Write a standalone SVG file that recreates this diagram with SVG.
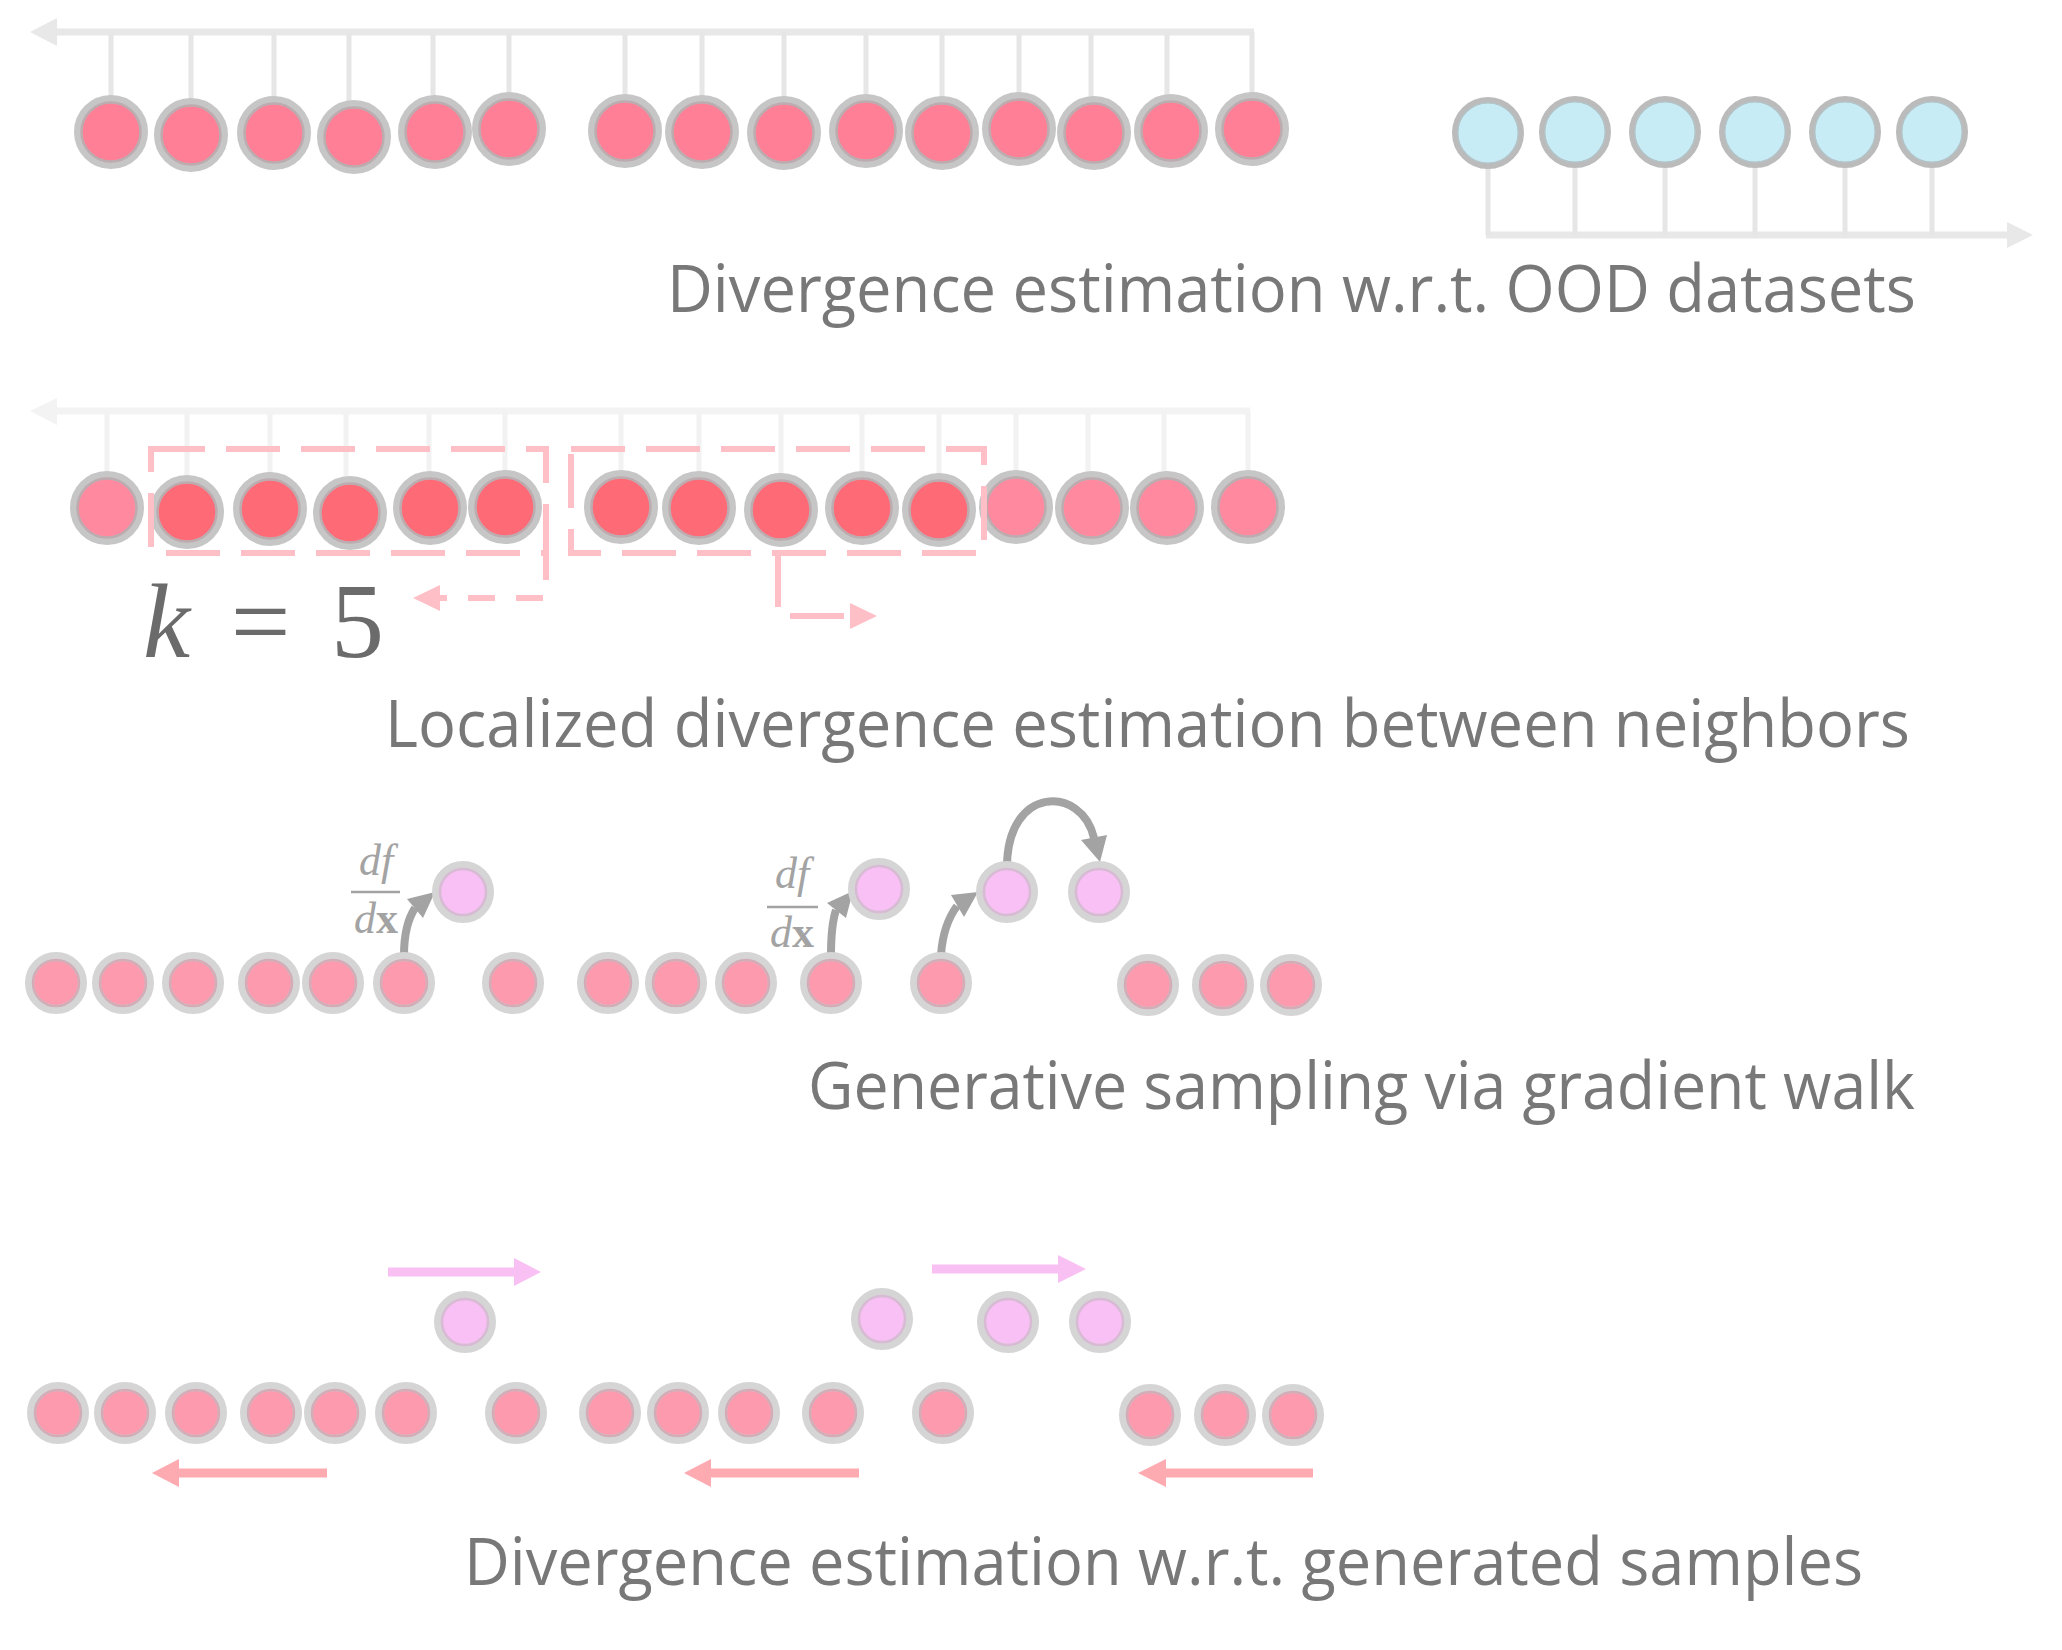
<svg xmlns="http://www.w3.org/2000/svg" xmlns:xlink="http://www.w3.org/1999/xlink" width="2062" height="1650" viewBox="0 0 2062 1650">
<style>
.lbl{font-family:"Open Sans","Noto Sans","Liberation Sans",sans-serif;font-size:65px;fill:#787878;font-variant-ligatures:none}
.math{font-family:"Liberation Serif","DejaVu Serif",serif;fill:#6b6b6b}
.frac{font-family:"Liberation Serif","DejaVu Serif",serif;font-size:44px;fill:#a3a3a3}
.ax1{stroke:#e8e8e8;stroke-width:7;fill:none}
.st1{stroke:#e6e6e6;stroke-width:5;fill:none}
.ax2{stroke:#f3f3f3;stroke-width:7;fill:none}
.st2{stroke:#f2f2f2;stroke-width:5;fill:none}
.dash{stroke:#ffbfc6;stroke-width:6;fill:none;stroke-dasharray:54 21}
.dashs{stroke:#ffbfc6;stroke-width:6;fill:none;stroke-dasharray:27 21}
.grad{stroke:#a3a3a3;stroke-width:8;fill:none}
.mag{stroke:#f9c0f4;stroke-width:9;fill:none}
.red{stroke:#fdaab0;stroke-width:9;fill:none}
</style>
<defs>
<g id="cR1"><circle r="33" fill="#ff7f96" stroke="#c6c6c6" stroke-width="8"/><circle r="29.5" fill="none" stroke="#bcacaf" stroke-width="2.5"/></g>
<g id="cR2d"><circle r="33" fill="#ff6a77" stroke="#c6c6c6" stroke-width="8"/><circle r="29.5" fill="none" stroke="#bcacaf" stroke-width="2.5"/></g>
<g id="cR2l"><circle r="33" fill="#ff8aa0" stroke="#c6c6c6" stroke-width="8"/><circle r="29.5" fill="none" stroke="#bcacaf" stroke-width="2.5"/></g>
<g id="cB"><circle r="33" fill="#c8ecf6" stroke="#bbbbbb" stroke-width="6"/><circle r="30.3" fill="none" stroke="#b3c3c7" stroke-width="1.5"/></g>
<g id="cP"><circle r="26.5" fill="#fd9aae" stroke="#d5d5d5" stroke-width="9"/><circle r="23" fill="none" stroke="#d2adb7" stroke-width="2.5"/></g>
<g id="cM"><circle r="26.5" fill="#f8c0f4" stroke="#d5d5d5" stroke-width="9"/><circle r="23" fill="none" stroke="#d8bad5" stroke-width="2.5"/></g>
</defs>

<g id="connectors">
<path class="ax1" d="M50,32 H1254"/>
<polygon points="30,32 57,18 57,46" fill="#e8e8e8"/>
<path class="st1" d="M111,32V132 M191,32V135 M274,32V133 M349,32V137 M433,32V132 M509,32V129 M625,32V131 M702,32V132 M784,32V133 M866,32V131 M942,32V133 M1019,32V129 M1091,32V133 M1167,32V131 M1252,32V129"/>
<path class="ax1" d="M1486,235 H2010"/>
<polygon points="2033,235 2007,222 2007,248" fill="#e8e8e8"/>
<path class="st1" d="M1488,133V235 M1575,132V235 M1665,132V235 M1755,132V235 M1845,132V235 M1932,132V235"/>
<path class="ax2" d="M50,411 H1250"/>
<polygon points="30,411 57,398 57,425" fill="#f3f3f3"/>
<path class="st2" d="M107,411V508 M187,411V512 M270,411V509 M346,411V513 M429,411V508 M505,411V507 M621,411V507 M699,411V508 M781,411V510 M862,411V508 M939,411V510 M1016,411V507 M1088,411V508 M1164,411V508 M1248,411V507"/>
<path class="grad" d="M404,955 Q404,925 415,908"/>
<polygon points="435,892 407,899 423,918" fill="#a3a3a3"/>
<path class="grad" d="M831,955 Q831,925 836,910"/>
<polygon points="853,891 827,903 846,918" fill="#a3a3a3"/>
<path class="grad" d="M941,955 Q943,925 957,906"/>
<polygon points="978,892 951,895 964,917" fill="#a3a3a3"/>
<path class="grad" d="M1007,867 C1007,785 1082,785 1094,838"/>
<polygon points="1100,862 1081,840 1107,835" fill="#a3a3a3"/>
<path class="mag" d="M388,1272 H516"/>
<polygon points="541,1272 514,1258 514,1286" fill="#f9c0f4"/>
<path class="mag" d="M932,1269 H1060"/>
<polygon points="1086,1269 1058,1255 1058,1283" fill="#f9c0f4"/>
<path class="red" d="M327,1473 H177"/>
<polygon points="152,1473 179,1459 179,1487" fill="#fdaab0"/>
<path class="red" d="M859,1473 H709"/>
<polygon points="684,1473 711,1459 711,1487" fill="#fdaab0"/>
<path class="red" d="M1313,1473 H1164"/>
<polygon points="1138,1473 1166,1459 1166,1487" fill="#fdaab0"/>
</g>

<g id="row1-red">
<g id="r1-1"><use href="#cR1" x="111" y="132"/></g>
<g id="r1-2"><use href="#cR1" x="191" y="135"/></g>
<g id="r1-3"><use href="#cR1" x="274" y="133"/></g>
<g id="r1-4"><use href="#cR1" x="354" y="137"/></g>
<g id="r1-5"><use href="#cR1" x="435" y="132"/></g>
<g id="r1-6"><use href="#cR1" x="509" y="129"/></g>
<g id="r1-7"><use href="#cR1" x="625" y="131"/></g>
<g id="r1-8"><use href="#cR1" x="702" y="132"/></g>
<g id="r1-9"><use href="#cR1" x="784" y="133"/></g>
<g id="r1-10"><use href="#cR1" x="866" y="131"/></g>
<g id="r1-11"><use href="#cR1" x="942" y="133"/></g>
<g id="r1-12"><use href="#cR1" x="1019" y="129"/></g>
<g id="r1-13"><use href="#cR1" x="1094" y="133"/></g>
<g id="r1-14"><use href="#cR1" x="1171" y="131"/></g>
<g id="r1-15"><use href="#cR1" x="1252" y="129"/></g>
</g>
<g id="row1-blue">
<g id="b1"><use href="#cB" x="1488" y="133"/></g>
<g id="b2"><use href="#cB" x="1575" y="132"/></g>
<g id="b3"><use href="#cB" x="1665" y="132"/></g>
<g id="b4"><use href="#cB" x="1755" y="132"/></g>
<g id="b5"><use href="#cB" x="1845" y="132"/></g>
<g id="b6"><use href="#cB" x="1932" y="132"/></g>
</g>
<text id="t1" class="lbl" x="667" y="312" textLength="1249" lengthAdjust="spacingAndGlyphs">Divergence estimation w.r.t. OOD datasets</text>

<g id="row2">
<g id="r2-1"><use href="#cR2l" x="107" y="508"/></g>
<g id="r2-2"><use href="#cR2d" x="187" y="512"/></g>
<g id="r2-3"><use href="#cR2d" x="270" y="509"/></g>
<g id="r2-4"><use href="#cR2d" x="350" y="513"/></g>
<g id="r2-5"><use href="#cR2d" x="430" y="508"/></g>
<g id="r2-6"><use href="#cR2d" x="505" y="507"/></g>
<g id="r2-7"><use href="#cR2d" x="621" y="507"/></g>
<g id="r2-8"><use href="#cR2d" x="699" y="508"/></g>
<g id="r2-9"><use href="#cR2d" x="781" y="510"/></g>
<g id="r2-10"><use href="#cR2d" x="862" y="508"/></g>
<g id="r2-11"><use href="#cR2d" x="939" y="510"/></g>
<g id="r2-12"><use href="#cR2l" x="1016" y="507"/></g>
<g id="r2-13"><use href="#cR2l" x="1092" y="508"/></g>
<g id="r2-14"><use href="#cR2l" x="1167" y="508"/></g>
<g id="r2-15"><use href="#cR2l" x="1248" y="507"/></g>
</g>
<g id="windows">
<rect class="dash" x="151" y="449" width="395" height="104"/>
<path class="dashs" d="M546,553 V598 H440"/>
<polygon points="413,598 440,585 440,611" fill="#ffbfc6"/>
<rect class="dash" x="571" y="449" width="413" height="104"/>
<path class="dash" d="M778,553 V616 H852"/>
<polygon points="877,616 850,603 850,629" fill="#ffbfc6"/>
</g>
<text id="k5" class="math" x="143" y="657" font-size="106" textLength="241" lengthAdjust="spacing"><tspan font-style="italic">k</tspan> = 5</text>
<text id="t2" class="lbl" x="385" y="747" textLength="1525" lengthAdjust="spacingAndGlyphs">Localized divergence estimation between neighbors</text>

<g id="row3">
<g id="p3-1"><use href="#cP" x="56" y="983"/></g>
<g id="p3-2"><use href="#cP" x="123" y="983"/></g>
<g id="p3-3"><use href="#cP" x="193" y="983"/></g>
<g id="p3-4"><use href="#cP" x="269" y="983"/></g>
<g id="p3-5"><use href="#cP" x="333" y="983"/></g>
<g id="p3-6"><use href="#cP" x="404" y="983"/></g>
<g id="p3-7"><use href="#cP" x="513" y="983"/></g>
<g id="p3-8"><use href="#cP" x="608" y="983"/></g>
<g id="p3-9"><use href="#cP" x="676" y="983"/></g>
<g id="p3-10"><use href="#cP" x="746" y="983"/></g>
<g id="p3-11"><use href="#cP" x="831" y="983"/></g>
<g id="p3-12"><use href="#cP" x="941" y="983"/></g>
<g id="p3-13"><use href="#cP" x="1148" y="985"/></g>
<g id="p3-14"><use href="#cP" x="1223" y="985"/></g>
<g id="p3-15"><use href="#cP" x="1291" y="985"/></g>
<g id="m3-1"><use href="#cM" x="463" y="892"/></g>
<g id="m3-2"><use href="#cM" x="879" y="889"/></g>
<g id="m3-3"><use href="#cM" x="1007" y="892"/></g>
<g id="m3-4"><use href="#cM" x="1099" y="892"/></g>
</g>
<g id="frac1">
<text class="frac" x="376" y="875" text-anchor="middle"><tspan font-style="italic">df</tspan></text>
<path d="M351,892 H400" stroke="#a3a3a3" stroke-width="2.5"/>
<text class="frac" x="376" y="933" text-anchor="middle"><tspan font-style="italic">d</tspan><tspan font-weight="bold">x</tspan></text>
</g>
<g id="frac2">
<text class="frac" x="792" y="888" text-anchor="middle"><tspan font-style="italic">df</tspan></text>
<path d="M767,907 H818" stroke="#a3a3a3" stroke-width="2.5"/>
<text class="frac" x="792" y="947" text-anchor="middle"><tspan font-style="italic">d</tspan><tspan font-weight="bold">x</tspan></text>
</g>
<text id="t3" class="lbl" x="808" y="1109" textLength="1107" lengthAdjust="spacingAndGlyphs">Generative sampling via gradient walk</text>

<g id="row4">
<g id="p4-1"><use href="#cP" x="58" y="1413"/></g>
<g id="p4-2"><use href="#cP" x="125" y="1413"/></g>
<g id="p4-3"><use href="#cP" x="196" y="1413"/></g>
<g id="p4-4"><use href="#cP" x="271" y="1413"/></g>
<g id="p4-5"><use href="#cP" x="335" y="1413"/></g>
<g id="p4-6"><use href="#cP" x="406" y="1413"/></g>
<g id="p4-7"><use href="#cP" x="516" y="1413"/></g>
<g id="p4-8"><use href="#cP" x="610" y="1413"/></g>
<g id="p4-9"><use href="#cP" x="678" y="1413"/></g>
<g id="p4-10"><use href="#cP" x="749" y="1413"/></g>
<g id="p4-11"><use href="#cP" x="833" y="1413"/></g>
<g id="p4-12"><use href="#cP" x="943" y="1413"/></g>
<g id="p4-13"><use href="#cP" x="1150" y="1415"/></g>
<g id="p4-14"><use href="#cP" x="1225" y="1415"/></g>
<g id="p4-15"><use href="#cP" x="1293" y="1415"/></g>
<g id="m4-1"><use href="#cM" x="465" y="1322"/></g>
<g id="m4-2"><use href="#cM" x="882" y="1319"/></g>
<g id="m4-3"><use href="#cM" x="1008" y="1322"/></g>
<g id="m4-4"><use href="#cM" x="1100" y="1322"/></g>
</g>
<text id="t4" class="lbl" x="464" y="1585" textLength="1399" lengthAdjust="spacingAndGlyphs">Divergence estimation w.r.t. generated samples</text>
</svg>
